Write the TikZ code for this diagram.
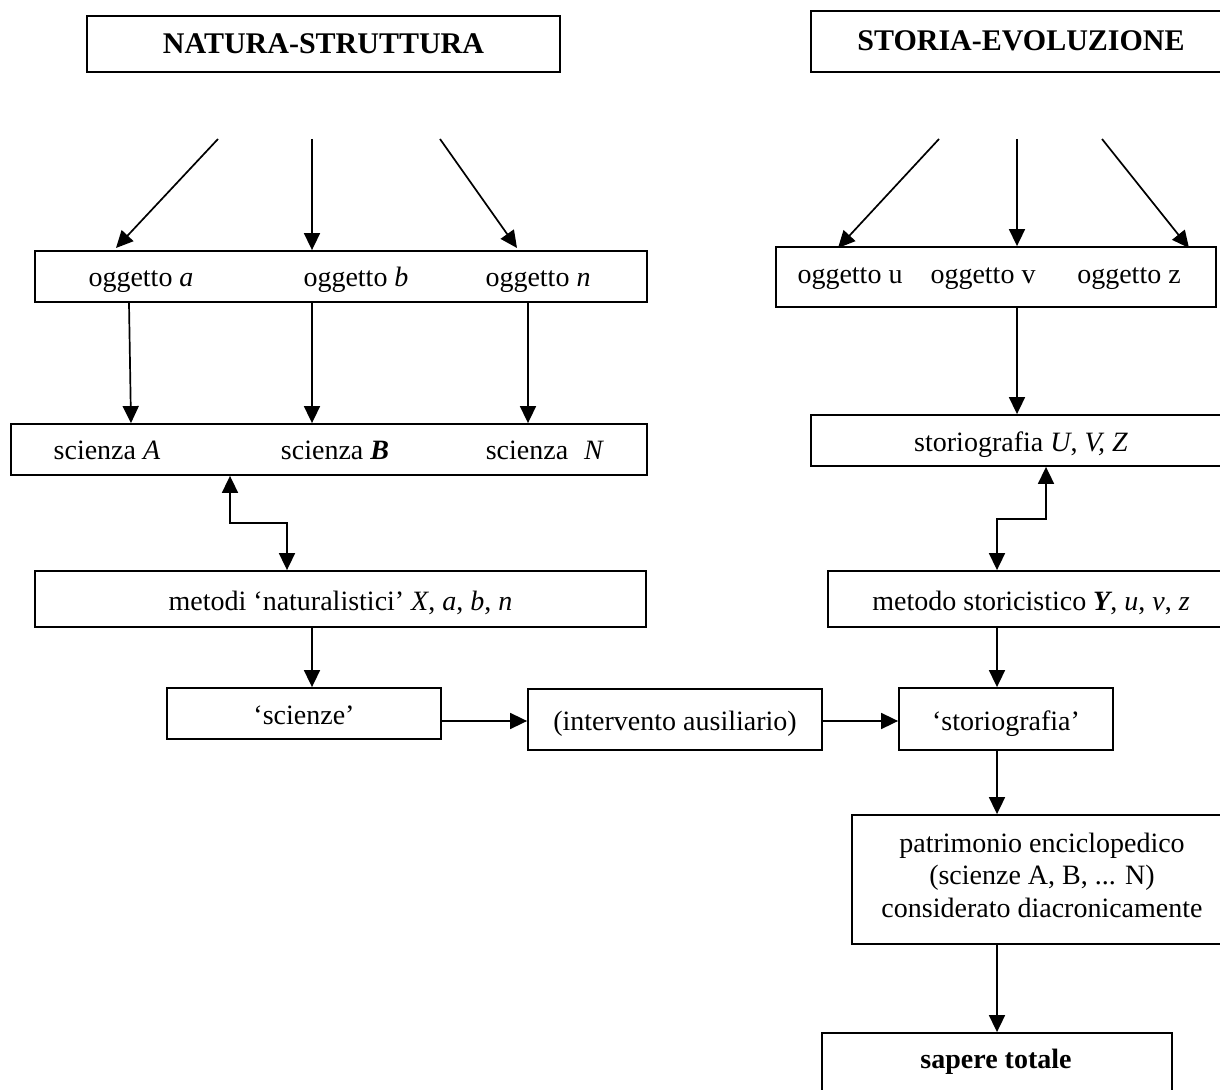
\documentclass[tikz,border=0pt]{standalone}
\usepackage{fontspec}
\setmainfont{Liberation Serif}
\usetikzlibrary{arrows.meta}
\begin{document}
\begin{tikzpicture}[x=0.5pt,y=-0.5pt,
  box/.style={draw,line width=0.9pt,inner sep=0pt,text height=11pt,text depth=0pt,
              font=\fontsize{14}{16}\selectfont},
  titlebox/.style={box,text height=9.5pt,font=\fontsize{15}{17}\selectfont\bfseries},
  txt/.style={inner sep=0pt,anchor=base,font=\fontsize{14}{16}\selectfont},
  arr/.style={line width=0.85pt,-{Triangle[length=8.5pt,width=8pt]}},
  darr/.style={line width=0.85pt,{Triangle[length=8.5pt,width=8pt]}-{Triangle[length=8.5pt,width=8pt]}}]
\useasboundingbox (0,0) rectangle (1220,1090);
\clip (0,0) rectangle (1220,1090);
\fill[white] (0,0) rectangle (1220,1090);

% boxes
\node[titlebox,minimum width=236.5pt,minimum height=28pt] (nat) at (323.5,44) {NATURA-STRUTTURA};
\node[titlebox,minimum width=210pt,minimum height=30.5pt] (sto) at (1021,41.5) {STORIA-EVOLUZIONE};

\node[box,minimum width=306pt,minimum height=25.5pt] (oab) at (341,276.5) {};
\node[txt] (oa) at (141,287) {oggetto \textit{a}};
\node[txt] (ob) at (356,287) {oggetto \textit{b}};
\node[txt] (on) at (538,287) {oggetto \textit{n}};

\node[box,minimum width=220pt,minimum height=30pt] (ouvz) at (996,277) {};
\node[txt] (ou) at (850,284) {oggetto u};
\node[txt] (ov) at (983,284) {oggetto v};
\node[txt] (oz) at (1129,284) {oggetto z};

\node[box,minimum width=318pt,minimum height=25.5pt] (sci) at (329,449.5) {};
\node[txt] (sa) at (107,460) {scienza \textit{A}};
\node[txt] (sb) at (335,460) {scienza \textit{\textbf{B}}};
\node[txt] (sn) at (545,460) {scienza\hspace{8pt}\textit{N}};

\node[box,minimum width=210pt,minimum height=25.5pt] (suvz) at (1021,440.5) {storiografia \textit{U}, \textit{V, Z}};

\node[box,minimum width=305.5pt,minimum height=28pt] (met) at (340.5,599) {metodi ‘naturalistici’ \textit{X}, \textit{a}, \textit{b}, \textit{n}};
\node[box,minimum width=203pt,minimum height=28pt] (mst) at (1031,599) {metodo storicistico \textit{\textbf{Y}}, \textit{u}, \textit{v}, \textit{z}};

\node[box,minimum width=137pt,minimum height=25.5pt] (scz) at (304,713.5) {‘scienze’};
\node[box,minimum width=147pt,minimum height=30.5pt] (int) at (675,719.5) {(intervento ausiliario)};
\node[box,minimum width=107pt,minimum height=31pt] (stg) at (1006,719) {‘storiografia’};

\node[box,minimum width=190pt,minimum height=64.5pt] (pat) at (1042,879.5) {};
\node[txt] (p1) at (1042,852) {patrimonio enciclopedico};
\node[txt] (p2) at (1042,884) {(scienze A, B, ... N)};
\node[txt] (p3) at (1042,917) {considerato diacronicamente};

\node[box,minimum width=175pt,minimum height=38.5pt] (sap) at (997,1071.5) {};
\node[txt,font=\fontsize{14}{16}\selectfont\bfseries] (saptxt) at (996,1068) {sapere totale};

% free ends of the top arrows
\coordinate (n1) at (218,139);
\coordinate (n2) at (312,139);
\coordinate (n3) at (440,139);
\coordinate (t1) at (116,248);
\coordinate (t3) at (517,248);
\coordinate (s1) at (939,139);
\coordinate (s2) at (1017,139);
\coordinate (s3) at (1102,139);
\coordinate (u1) at (838,248);
\coordinate (u3) at (1189,248);

\draw[arr] (n1) -- (t1);
\draw[arr] (n2) -- (n2 |- oab.north);
\draw[arr] (n3) -- (t3);
\draw[arr] (s1) -- (u1);
\draw[arr] (s2) -- (s2 |- ouvz.north);
\draw[arr] (s3) -- (u3);

% oggetti -> scienze
\draw[arr] (129,0 |- oab.south) -- (131,0 |- sci.north);
\draw[arr] (312,0 |- oab.south) -- (312,0 |- sci.north);
\draw[arr] (528,0 |- oab.south) -- (528,0 |- sci.north);
\draw[arr] (1017,0 |- ouvz.south) -- (1017,0 |- suvz.north);

% double arrows
\draw[darr] (230,0 |- sci.south) -- (230,523) -- (287,523) -- (287,0 |- met.north);
\draw[darr] (1046,0 |- suvz.south) -- (1046,519) -- (997,519) -- (997,0 |- mst.north);

% lower chain
\draw[arr] (312,0 |- met.south) -- (312,0 |- scz.north);
\draw[arr] (997,0 |- mst.south) -- (997,0 |- stg.north);
\draw[arr] (scz.east |- 0,721) -- (int.west |- 0,721);
\draw[arr] (int.east |- 0,721) -- (stg.west |- 0,721);
\draw[arr] (997,0 |- stg.south) -- (997,0 |- pat.north);
\draw[arr] (997,0 |- pat.south) -- (997,0 |- sap.north);
\end{tikzpicture}
\end{document}
